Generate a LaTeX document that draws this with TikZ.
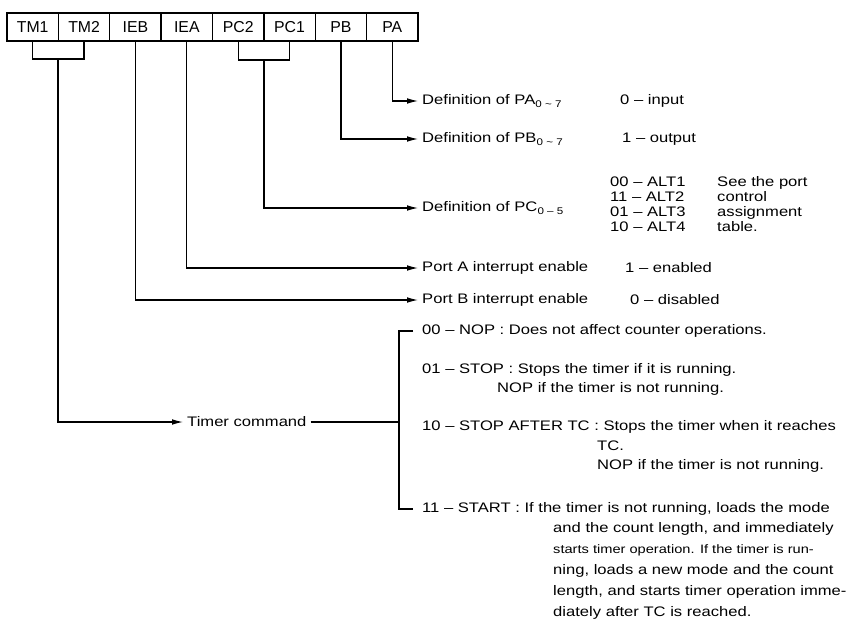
\documentclass[tikz,border=0pt]{standalone}
\usepackage{fontspec}
\setmainfont{Liberation Sans}[FakeStretch=1.2]
\newfontfamily\regfont{Liberation Sans}
\usepackage{tikz}
\usetikzlibrary{arrows.meta, positioning}

\begin{document}
\begin{tikzpicture}[
  x=0.03cm, y=-0.03cm,
  cell/.style={draw, line width=1.2pt, outer sep=0pt, inner sep=0pt,
               minimum width=1.541cm, minimum height=0.84cm,
               font=\regfont\fontsize{13.5}{14}\selectfont},
  lbl/.style={anchor=west, inner xsep=0.12cm, inner ysep=1pt,
              font=\fontsize{11.8}{14}\selectfont},
  txt/.style={anchor=west, inner sep=0pt, align=left,
              font=\fontsize{11.8}{14}\selectfont},
  tbl/.style={txt, font=\fontsize{11.8}{12.8}\selectfont},
  line/.style={line width=1pt},
  arr/.style={line, -{Latex[length=0.33cm,width=0.17cm]}},
]
\useasboundingbox (0,0) rectangle (847,621);

% ---------------- Register ----------------
\node[cell] (tm1) at (32.7,27) {TM1};
\node[cell, right=0pt of tm1] (tm2) {TM2};
\node[cell, right=0pt of tm2] (ieb) {IEB};
\node[cell, right=0pt of ieb] (iea) {IEA};
\node[cell, right=0pt of iea] (pc2) {PC2};
\node[cell, right=0pt of pc2] (pc1) {PC1};
\node[cell, right=0pt of pc1] (pb)  {PB};
\node[cell, right=0pt of pb]  (pa)  {PA};

% ---------------- Port definitions ----------------
\node[lbl] (defpa) at (418,101) {Definition of PA\textsubscript{0 \textasciitilde{} 7}};
\node[lbl] (defpb) at (418,139) {Definition of PB\textsubscript{0 \textasciitilde{} 7}};
\node[lbl] (defpc) at (418,208) {Definition of PC\textsubscript{0 -- 5}};
\node[lbl] (porta) at (418,268) {Port A interrupt enable};
\node[lbl] (portb) at (418,300) {Port B interrupt enable};

\node[txt] (valpa)  at (620,101) {0 – input};
\node[txt] (valpb)  at (622,139) {1 – output};
\node[tbl] (altcode) at (610,204.5) {00 – ALT1\\11 – ALT2\\01 – ALT3\\10 – ALT4};
\node[tbl] (altnote) at (717,204.5) {See the port\\control\\assignment\\table.};
\node[txt] (valpta) at (625,268) {1 – enabled};
\node[txt] (valptb) at (630,300) {0 – disabled};

% ---------------- Timer command ----------------
\node[lbl] (timer) at (183,422) {Timer command};

\node[txt] (nop)    at (422,331) {00 – NOP : Does not affect counter operations.};
\node[txt] (stopa)  at (422,370) {01 – STOP : Stops the timer if it is running.};
\node[txt] (stopb)  at (497,389) {NOP if the timer is not running.};
\node[txt] (tca)    at (422,427) {10 – STOP AFTER TC : Stops the timer when it reaches};
\node[txt] (tcb)    at (597,446) {TC.};
\node[txt] (tcc)    at (597,466) {NOP if the timer is not running.};
\node[txt] (starta) at (422,509) {11 – START : If the timer is not running, loads the mode};
\node[txt, anchor=north west, font=\fontsize{11.8}{17.9}\selectfont] (startb) at (553,522)
  {and the count length, and immediately\\
   {\fontsize{10.4}{17.9}\selectfont starts timer operation. If the timer is run-}\\
   ning, loads a new mode and the count\\
   length, and starts timer operation imme-\\
   diately after TC is reached.};

\coordinate (tmmid) at (58,59);
\coordinate (pcmid) at (264,60);
\coordinate (brtop) at (399,331);
\coordinate (brbot) at (399,509);
\coordinate (tktop) at (413,331);
\coordinate (tkbot) at (413,509);

% ---------------- Connectors ----------------
\draw[arr] (pa.south) |- (defpa.west);
\draw[arr] (pb.south) |- (defpb.west);
\draw[line] (pc2.south) |- (pcmid) -| (pc1.south);
\draw[arr] (pcmid) |- (defpc.west);
\draw[arr] (iea.south) |- (porta.west);
\draw[arr] (ieb.south) |- (portb.west);
\draw[line] (tm1.south) |- (tmmid) -| (tm2.south);
\draw[arr] (tmmid) |- (timer.west);

\draw[line] (timer.east) -- (timer.east -| brtop);
\draw[line] (tktop) -- (brtop) -- (brbot) -- (tkbot);
\end{tikzpicture}
\end{document}
